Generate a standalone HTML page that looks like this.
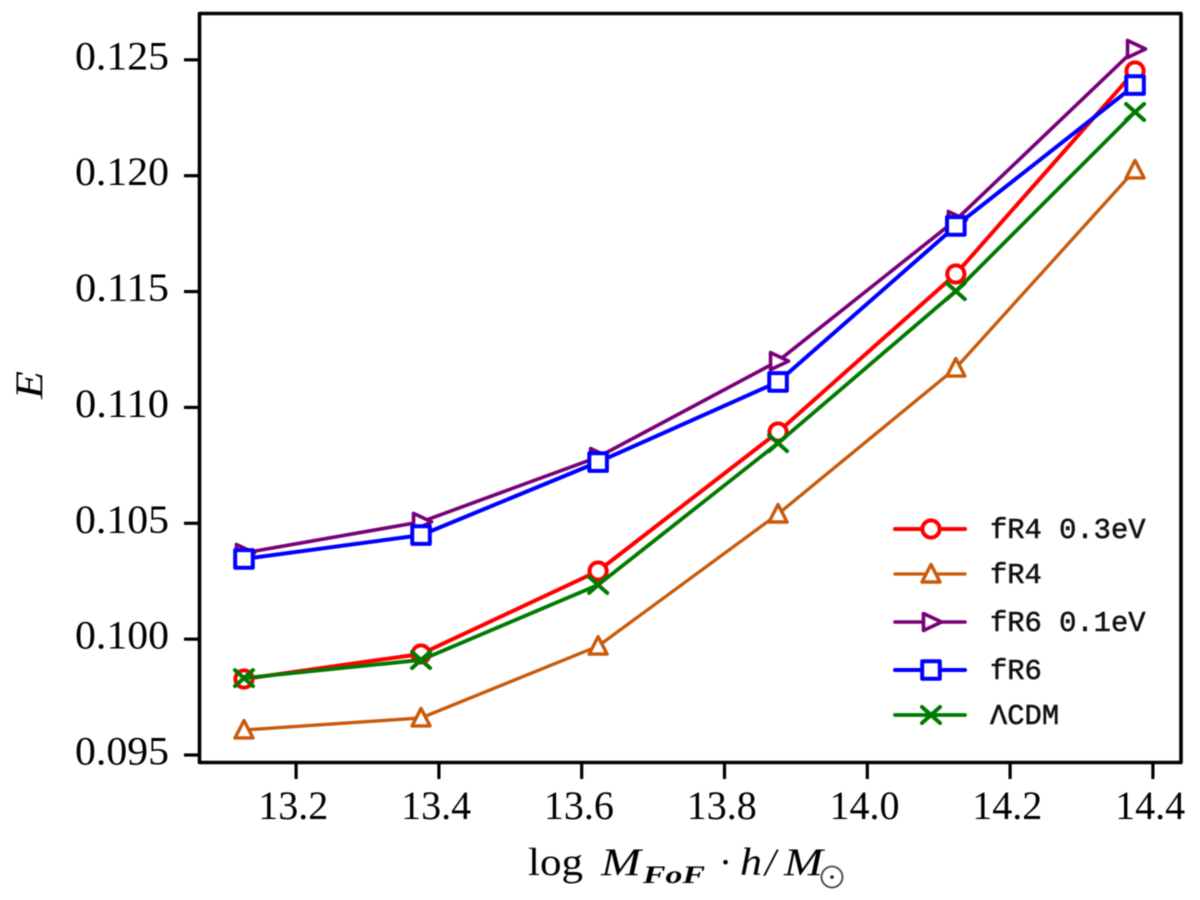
<!DOCTYPE html>
<html>
<head>
<meta charset="utf-8">
<title>E vs log M chart</title>
<style>
html,body{margin:0;padding:0;background:#fff;width:1200px;height:900px;overflow:hidden}
svg{display:block;filter:blur(0.6px)}
text{font-family:"Liberation Serif",serif;fill:#000}
.tick{font-size:40px}
.leg{font-family:"Liberation Mono",monospace;font-size:28.8px;fill:#111;stroke:#111;stroke-width:0.55px}
</style>
</head>
<body>
<svg id="chart" xmlns="http://www.w3.org/2000/svg" width="1200" height="900" viewBox="0 0 1200 900">
  <rect width="1200" height="900" fill="#fff"/>
  <g id="ticks"></g>
  <g id="series"></g>
  <rect x="199.5" y="13.5" width="981.5" height="749" fill="none" stroke="#000" stroke-width="3.6" stroke-linejoin="round"/>
  <g id="legend"></g>
  <text transform="translate(42,399) rotate(-90)" font-size="39" font-style="italic" textLength="28" lengthAdjust="spacingAndGlyphs">E</text>
  <g>
    <text x="528" y="875" font-size="39" textLength="55" lengthAdjust="spacingAndGlyphs">log</text>
    <text x="601" y="875" font-size="39" font-style="italic" textLength="40" lengthAdjust="spacingAndGlyphs">M</text>
    <text x="643" y="883" font-size="25" font-style="italic" font-weight="bold" textLength="62" lengthAdjust="spacingAndGlyphs">FoF</text>
    <text x="719" y="875" font-size="39">·</text>
    <text x="740" y="875" font-size="39" font-style="italic" textLength="22" lengthAdjust="spacingAndGlyphs">h</text>
    <text x="765" y="875" font-size="39" font-style="italic">/</text>
    <text x="784" y="875" font-size="39" font-style="italic" textLength="39" lengthAdjust="spacingAndGlyphs">M</text>
    <circle cx="832" cy="877" r="10.5" fill="none" stroke="#444" stroke-width="1.8"/>
    <circle cx="832" cy="877" r="1.8" fill="#222"/>
  </g>
</svg>
<script>
const massBins = [13.127, 13.375, 13.623, 13.875, 14.124, 14.375];
const fR4_03eV = [0.09828, 0.09936, 0.10294, 0.10894, 0.11576, 0.12452];
const fR4 = [0.09608, 0.0966, 0.0997, 0.1054, 0.1117, 0.12025];
const fR6_01eV = [0.10372, 0.10506, 0.10786, 0.1120, 0.11809, 0.12547];
const fR6 = [0.10346, 0.10449, 0.10764, 0.1111, 0.11783, 0.12391];
const lcdm = [0.09832, 0.0991, 0.10234, 0.10846, 0.11502, 0.12275];
const xTickValues = [13.2, 13.4, 13.6, 13.8, 14.0, 14.2, 14.4];
const xTickLabels = ["13.2", "13.4", "13.6", "13.8", "14.0", "14.2", "14.4"];
const yTickValues = [0.095, 0.100, 0.105, 0.110, 0.115, 0.120, 0.125];
const yTickLabels = ["0.095", "0.100", "0.105", "0.110", "0.115", "0.120", "0.125"];
const seriesNames = ["fR4 0.3eV", "fR4", "fR6 0.1eV", "fR6", "\u039BCDM"];
const seriesValues = [fR4_03eV, fR4, fR6_01eV, fR6, lcdm];
const seriesColors = ["#ff0000", "#c85a0a", "#780078", "#0000ff", "#007a00"];
const seriesMarkers = ["circle", "triangle-up", "triangle-right", "square", "x"];
const seriesWidths = [4, 3.3, 3.6, 4, 3.8];

const NS = "http://www.w3.org/2000/svg";
function xScale(v) { return 724.5 + (v - 13.8) * 714; }
function yScale(v) { return 755 - (v - 0.095) * 23172; }
function make(tag, attrs, parent) {
  const el = document.createElementNS(NS, tag);
  for (const k in attrs) el.setAttribute(k, attrs[k]);
  parent.appendChild(el);
  return el;
}
function drawMarker(kind, cx, cy, color, parent) {
  const style = { fill: kind === "x" ? "none" : "#fff", stroke: color, "stroke-width": 4, "stroke-linejoin": "round", "stroke-linecap": "round" };
  let el;
  if (kind === "circle") {
    el = make("circle", Object.assign({ cx: cx, cy: cy, r: 8.6 }, style), parent);
  } else if (kind === "square") {
    el = make("rect", Object.assign({ x: cx - 8.8, y: cy - 8.8, width: 17.6, height: 17.6 }, style), parent);
  } else if (kind === "triangle-up") {
    el = make("polygon", Object.assign({ points: [cx, cy - 9.5, cx + 9, cy + 8, cx - 9, cy + 8].join(",") }, style, { "stroke-width": 3.4 }), parent);
  } else if (kind === "triangle-right") {
    el = make("polygon", Object.assign({ points: [cx + 10.5, cy, cx - 7.5, cy + 8.5, cx - 7.5, cy - 8.5].join(",") }, style, { "stroke-width": 3.6 }), parent);
  } else {
    const d = "M" + (cx - 9) + " " + (cy - 8) + "L" + (cx + 9) + " " + (cy + 8) + "M" + (cx - 9) + " " + (cy + 8) + "L" + (cx + 9) + " " + (cy - 8);
    el = make("path", Object.assign({ d: d }, style), parent);
  }
  return el;
}

const ticksG = document.getElementById("ticks");
xTickValues.forEach(function (v, i) {
  const x = xScale(v);
  const line = make("line", { x1: x, x2: x, y1: 762, y2: 779, stroke: "#000", "stroke-width": 3.2 }, ticksG);
  
  
  const label = make("text", { x: x - 2.8, y: 819, "text-anchor": "middle", class: "tick", textLength: 70, lengthAdjust: "spacingAndGlyphs" }, ticksG);
  label.textContent = xTickLabels[i];
  
  
});
yTickValues.forEach(function (v, i) {
  const y = yScale(v);
  const line = make("line", { x1: 184, x2: 200, y1: y, y2: y, stroke: "#000", "stroke-width": 3.2 }, ticksG);
  
  
  const label = make("text", { x: 169, y: y + 9.5, "text-anchor": "end", class: "tick", textLength: 94, lengthAdjust: "spacingAndGlyphs" }, ticksG);
  label.textContent = yTickLabels[i];
  
  
});

const seriesG = document.getElementById("series");
seriesValues.forEach(function (vals, s) {
  const g = make("g", {}, seriesG);
  
  
  const pts = vals.map(function (v, i) { return xScale(massBins[i]) + "," + yScale(v); }).join(" ");
  const line = make("polyline", { points: pts, fill: "none", stroke: seriesColors[s], "stroke-width": seriesWidths[s], "stroke-linejoin": "round" }, g);
  
  
  vals.forEach(function (v, i) {
    const m = drawMarker(seriesMarkers[s], xScale(massBins[i]), yScale(v), seriesColors[s], g);
    
    
  });
});

const legendRows = [529, 574, 622, 670, 715];
const legendG = document.getElementById("legend");
seriesNames.forEach(function (name, s) {
  const y = legendRows[s];
  const row = make("g", {}, legendG);
  
  
  make("line", { x1: 895, x2: 965, y1: y, y2: y, stroke: seriesColors[s], "stroke-width": seriesWidths[s], "stroke-linecap": "round" }, row);
  drawMarker(seriesMarkers[s], 931, y, seriesColors[s], row);
  const t = make("text", { x: 990, y: y + 9, class: "leg" }, row);
  t.textContent = name;
});
</script>
</body>
</html>
